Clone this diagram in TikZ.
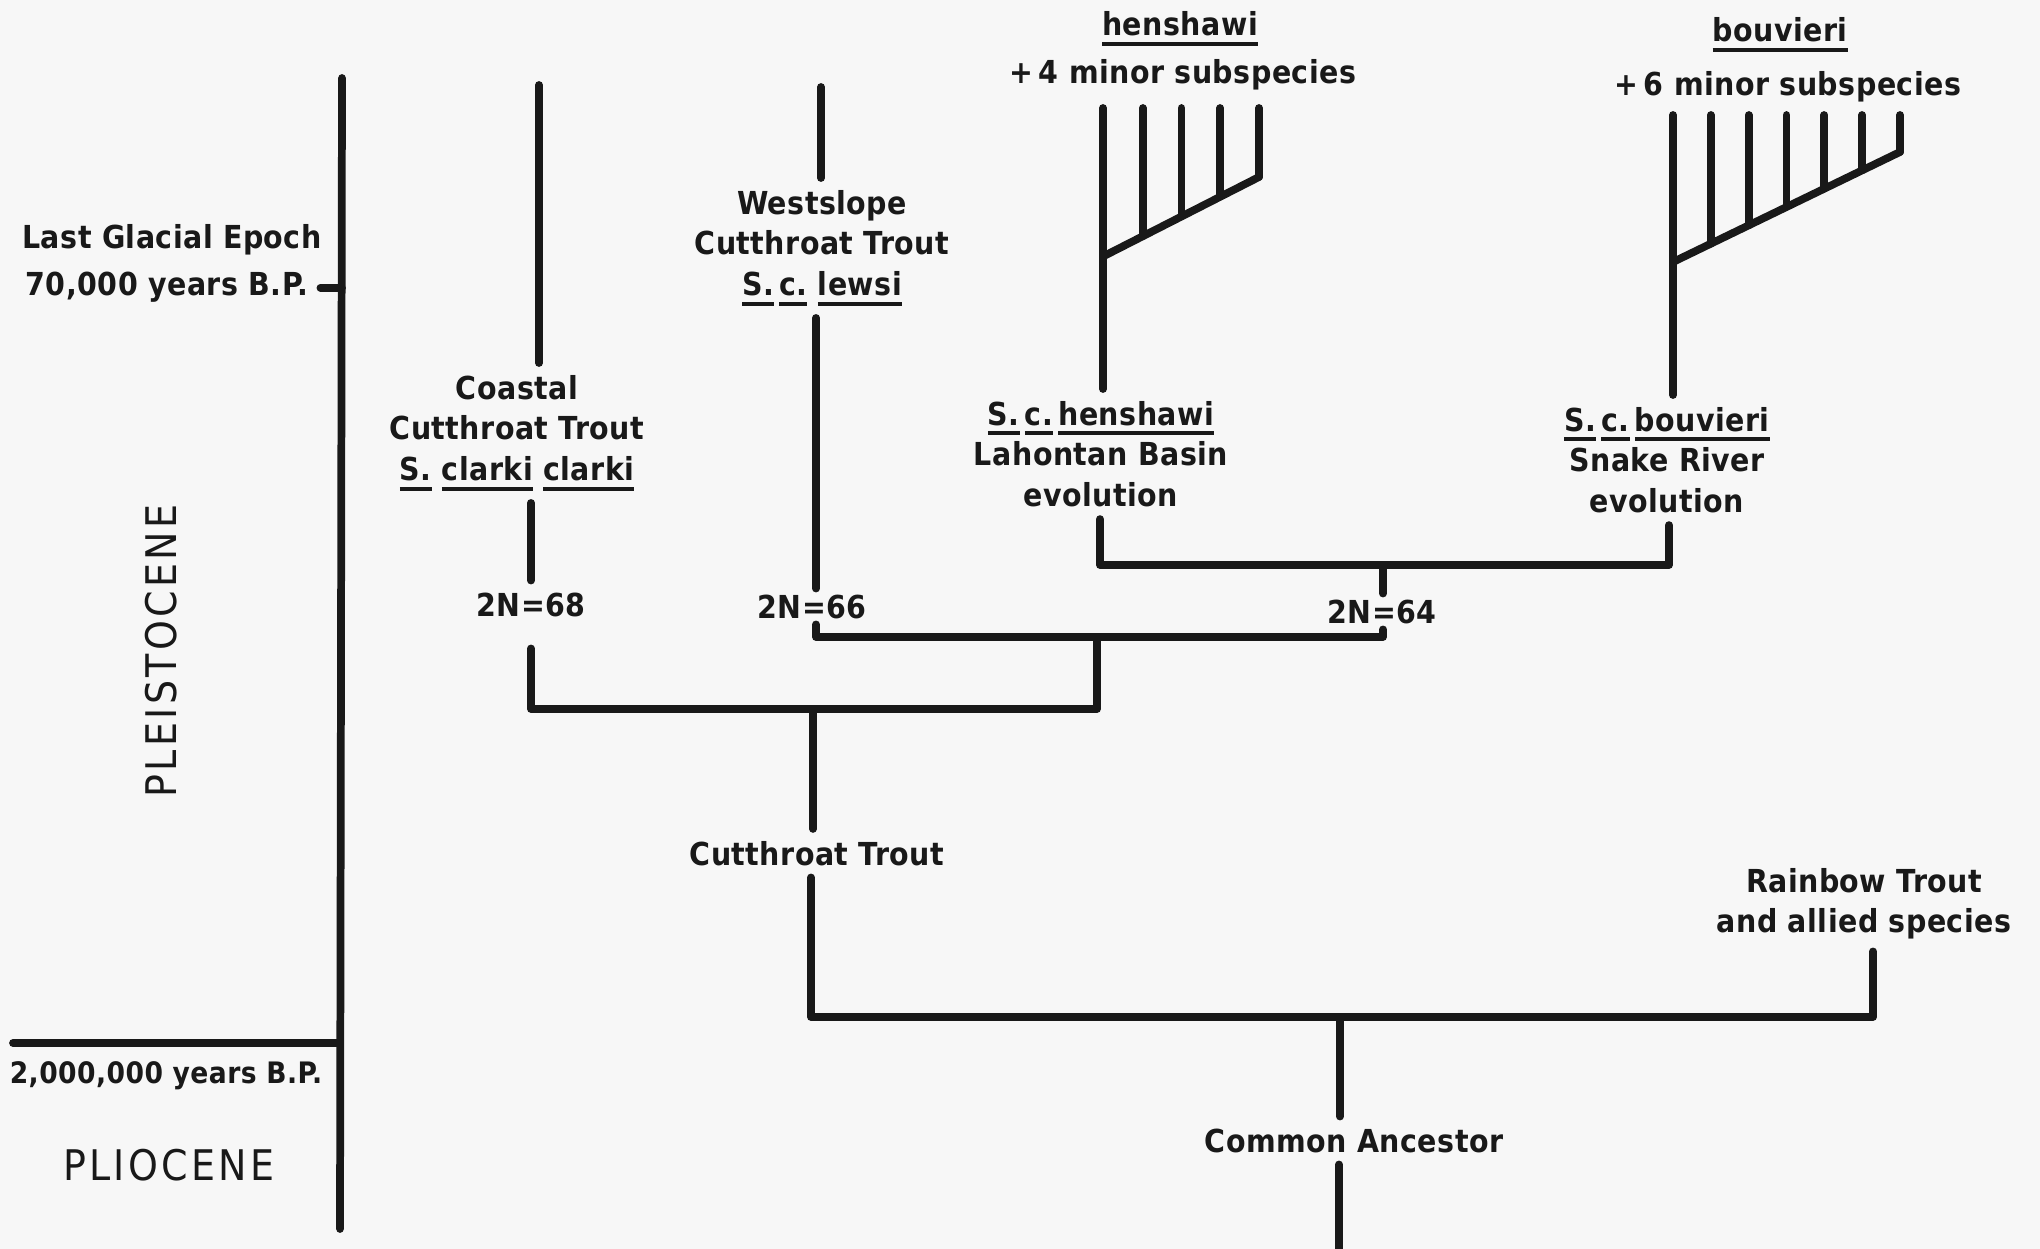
\documentclass[tikz,border=0pt]{standalone}
\usepackage{fontspec}
\setmainfont{DejaVu Sans Condensed}[LetterSpace=1.5]
\newfontfamily\erafont{DejaVu Sans Condensed}[LetterSpace=8]
\usetikzlibrary{calc}
\newcommand{\sci}[1]{\leavevmode\vtop{\hbox{#1}\kern1.6pt\hrule height 1.2pt}}
\begin{document}
\begin{tikzpicture}[
    x=0.01cm, y=-0.01cm,
    color=black!90,
    line width=2.2pt, line cap=round, line join=round,
    lbl/.style={font=\bfseries\fontsize{9}{11.6}\selectfont, inner sep=0pt, outer sep=0.12cm, align=center},
    karyo/.style={lbl, outer sep=0.06cm},
    era/.style={font=\erafont\fontsize{12}{14}\selectfont, inner sep=0pt}
]
\fill[black!3] (0,0) rectangle (2040,1249);
\useasboundingbox (0,0) rectangle (2040,1249);
% time scale
\node[lbl, anchor=base] (glacial) at (172,249) {Last Glacial Epoch};
\node[lbl, anchor=base] (glacyr) at (167,296) {70,000 years B.P.};
\node[era, rotate=90] (pleist) at (161,651) {PLEISTOCENE};
\node[lbl, anchor=base, font=\bfseries\fontsize{8.4}{10}\selectfont] (plioyr) at (166,1083) {2,000,000 years B.P.};
\node[era, anchor=base] (plio) at (169,1180) {PLIOCENE};
\coordinate (axtop) at (342,78);
\coordinate (axbot) at (340,1229);
\coordinate (plleft) at (13,1043);
\draw (axtop) -- (axbot);
\draw (glacyr.east) -- (glacyr.east -| axtop);
\draw (plleft) -- (plleft -| axbot);
% labels of the tree
\node[lbl, anchor=north] (coastal) at (517,363) {Coastal\\Cutthroat Trout\\\sci{S.}\ \sci{clarki}\ \sci{clarki}};
\node[lbl, anchor=base] (n68) at (531,616) {2N=68};
\node[lbl, anchor=north] (westslope) at (822,178) {Westslope\\Cutthroat Trout\\\sci{S.}\,\sci{c.}\ \sci{lewsi}};
\node[karyo, anchor=base] (n66) at (812,618) {2N=66};
\node[lbl, anchor=north] (henslab) at (1101,389) {\sci{S.}\,\sci{c.}\,\sci{henshawi}\\Lahontan Basin\\evolution};
\node[lbl, anchor=north] (bouvlab) at (1667,395) {\sci{S.}\,\sci{c.}\,\sci{bouvieri}\\Snake River\\evolution};
\node[karyo, anchor=base] (n64) at (1382,623) {2N=64};
\node[lbl, anchor=base] (cutthroat) at (817,865) {Cutthroat Trout};
\node[lbl, anchor=north] (rainbow) at (1864,856) {Rainbow Trout\\and allied species};
\node[lbl, anchor=base] (ancestor) at (1354,1152) {Common Ancestor};
\node[lbl, anchor=base] (henshead) at (1180,36) {\sci{henshawi}};
\node[lbl, anchor=base] (hensminor) at (1183,84) {+\,4 minor subspecies};
\node[lbl, anchor=base] (bouvhead) at (1780,42) {\sci{bouvieri}};
\node[lbl, anchor=base] (bouvminor) at (1788,96) {+\,6 minor subspecies};
% junctions
\coordinate (cctop) at (539,85);
\coordinate (wstop) at (821,87);
\coordinate (hstop) at (1103,108);
\coordinate (bstop) at (1673,115);
\coordinate (jcl) at (531,709);
\coordinate (jcm) at (813,709);
\coordinate (jcr) at (1097,709);
\coordinate (jwl) at (816,637);
\coordinate (jwm) at (1097,637);
\coordinate (jwr) at (1383,637);
\coordinate (jhl) at (1100,565);
\coordinate (jhm) at (1383,565);
\coordinate (jhr) at (1669,565);
\coordinate (jbl) at (811,1017);
\coordinate (jbm) at (1340,1017);
\coordinate (jbr) at (1873,1017);
\coordinate (ancbot) at (1339,1249);
% branches
\draw (cctop) -- (cctop |- coastal.north);
\draw (n68.north |- coastal.south) -- (n68.north);
\draw[shorten <=0.2cm] (n68.south) -- (jcl) -- (jcr) -- (jwm);
\draw (jcm) -- (jcm |- cutthroat.north);
\draw (wstop) -- (wstop |- westslope.north);
\draw (jwl |- westslope.south) -- (jwl |- n66.north);
\draw (jwl |- n66.south) -- (jwl) -- (jwr) -- (jwr |- n64.south);
\draw (jhm |- n64.north) -- (jhm);
\draw (jhl |- henslab.south) -- (jhl) -- (jhr) -- (jhr |- bouvlab.south);
\draw (hstop) -- (hstop |- henslab.north);
\draw (bstop) -- (bstop |- bouvlab.north);
\draw (jbl |- cutthroat.south) -- (jbl) -- (jbr) -- (jbr |- rainbow.south);
\draw (jbm) -- (jbm |- ancestor.north);
\draw (ancbot |- ancestor.south) -- (ancbot);
% minor subspecies
\coordinate (hd0) at (1104,256);
\coordinate (hd4) at (1259,177);
\draw (hd0) -- (hd4);
\foreach \i in {1,...,4} {
  \path ($(hd0)!\i/4!(hd4)$) coordinate (hfan);
  \draw (hfan) -- (hfan |- hstop);
}
\coordinate (bd0) at (1673,262);
\coordinate (bd6) at (1900,152);
\draw (bd0) -- (bd6);
\foreach \i in {1,...,6} {
  \path ($(bd0)!\i/6!(bd6)$) coordinate (bfan);
  \draw (bfan) -- (bfan |- bstop);
}
\end{tikzpicture}
\end{document}
